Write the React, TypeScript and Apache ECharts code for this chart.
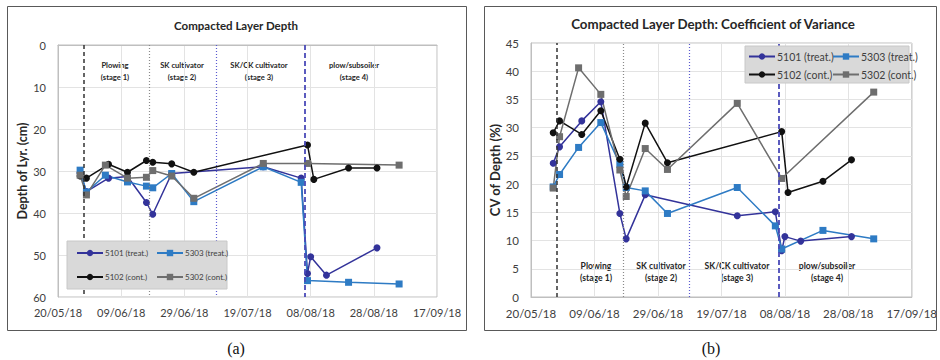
import React, { useEffect, useRef } from "react";
import * as echarts from "echarts";

// ---------- data ----------
const dates5101 = ["27/05/18", "29/05/18", "05/06/18", "11/06/18", "17/06/18", "19/06/18", "25/06/18", "24/07/18", "05/08/18", "07/08/18", "08/08/18", "13/08/18", "29/08/18"];
const depth5101 = [30.5, 34.9, 31.7, 31.3, 37.5, 40.3, 30.6, 29.0, 31.7, 54.4, 50.4, 54.8, 48.3];
const cv5101 = [23.7, 26.6, 31.2, 34.6, 14.8, 10.3, 18.1, 14.4, 15.1, 8.2, 10.7, 9.9, 10.7];

const dates5303 = ["27/05/18", "29/05/18", "04/06/18", "11/06/18", "17/06/18", "19/06/18", "25/06/18", "02/07/18", "24/07/18", "05/08/18", "07/08/18", "20/08/18", "05/09/18"];
const depth5303 = [29.8, 35.0, 31.0, 32.6, 33.6, 34.0, 30.6, 37.3, 29.0, 32.7, 56.1, 56.5, 56.9];
const cv5303 = [19.5, 21.7, 26.5, 30.9, 23.5, 19.4, 18.8, 14.8, 19.4, 12.6, 8.5, 11.8, 10.3];

const dates5102 = ["27/05/18", "29/05/18", "05/06/18", "11/06/18", "17/06/18", "19/06/18", "25/06/18", "02/07/18", "07/08/18", "09/08/18", "20/08/18", "29/08/18"];
const depth5102 = [31.2, 31.7, 28.4, 30.3, 27.5, 27.9, 28.3, 30.3, 23.8, 32.0, 29.3, 29.3];
const cv5102 = [29.1, 31.2, 28.8, 33.0, 24.4, 19.5, 30.8, 23.8, 29.3, 18.5, 20.5, 24.3];

const dates5302 = ["27/05/18", "29/05/18", "04/06/18", "11/06/18", "17/06/18", "19/06/18", "25/06/18", "02/07/18", "24/07/18", "07/08/18", "05/09/18"];
const depth5302 = [31.0, 35.7, 28.6, 31.7, 31.5, 29.9, 31.2, 36.5, 28.2, 28.2, 28.6];
const cv5302 = [19.3, 28.4, 40.6, 35.9, 22.5, 17.8, 26.3, 22.6, 34.3, 21.0, 36.3];

const seriesNames = ["5101 (treat.)", "5303 (treat.)", "5102 (cont.)", "5302 (cont.)"];
const stageLineDates = ["28/05/18", "18/06/18", "09/07/18", "06/08/18"];
const stageLabels = ["Plowing\n(stage 1)", "SK cultivator\n(stage 2)", "SK/CK cultivator\n(stage 3)", "plow/subsoiler\n(stage 4)"];
const axisStartDate = "20/05/18";
const axisEndDate = "17/09/18";

// ---------- helpers ----------
const toUTC = (s: string) => {
  const [d, m, y] = s.split("/").map(Number);
  return Date.UTC(2000 + y, m - 1, d);
};
const BASE = toUTC(axisStartDate);
const dayOf = (s: string) => (toUTC(s) - BASE) / 86400000;
const fmtDay = (v: number) => {
  const dt = new Date(BASE + v * 86400000);
  const p = (n: number) => String(n).padStart(2, "0");
  return `${p(dt.getUTCDate())}/${p(dt.getUTCMonth() + 1)}/${p(dt.getUTCFullYear() % 100)}`;
};
const pairs = (ds: string[], vs: number[]) => ds.map((d, i) => [dayOf(d), vs[i]]);

const FONT = "Lato";
const colors = ["#33339a", "#2e7bc4", "#111111", "#6e6e6e"];
const symbols = ["circle", "rect", "circle", "rect"];

export default function App() {
  const ref = useRef<HTMLDivElement>(null);
  useEffect(() => {
    document.body.style.margin = "0";
    const chart = echarts.init(ref.current!, null, { renderer: "svg" });
    const xMax = dayOf(axisEndDate);
    const mkX = (gi: number, fs: number) => ({
      type: "value",
      gridIndex: gi,
      min: 0,
      max: xMax,
      interval: 20,
      axisLine: { show: true, lineStyle: { color: "#bfbfbf" } },
      axisTick: { show: false },
      splitLine: { show: true, lineStyle: { color: "#e3e3e3" } },
      axisLabel: { formatter: fmtDay, fontFamily: FONT, fontSize: fs, color: "#404040", margin: 10 },
    });
    const stageLines = [
      { color: "#333333", type: [4, 3], width: 1.5 },
      { color: "#8a8a8a", type: [1, 2], width: 1.2 },
      { color: "#5a5ad0", type: [1, 2], width: 1.2 },
      { color: "#4a4ab8", type: [5, 3], width: 1.8 },
    ];
    const markLine = {
      silent: true,
      symbol: ["none", "none"],
      label: { show: false },
      data: stageLineDates.map((d, i) => ({ xAxis: dayOf(d), lineStyle: stageLines[i] })),
    };
    const datasets = [
      [pairs(dates5101, depth5101), pairs(dates5303, depth5303), pairs(dates5102, depth5102), pairs(dates5302, depth5302)],
      [pairs(dates5101, cv5101), pairs(dates5303, cv5303), pairs(dates5102, cv5102), pairs(dates5302, cv5302)],
    ];
    const series: any[] = [];
    [0, 1].forEach((gi) => {
      seriesNames.forEach((name, i) => {
        series.push({
          type: "line",
          name,
          xAxisIndex: gi,
          yAxisIndex: gi,
          data: datasets[gi][i],
          symbol: symbols[i],
          symbolSize: 7,
          lineStyle: { color: colors[i], width: 1.5 },
          itemStyle: { color: colors[i] },
          color: colors[i],
          markLine: i === 0 ? markLine : undefined,
          z: 2,
        });
      });
    });
    const mkLegend = (name: string, left: number, top: number, fs: number, iw: number) => ({
      data: [name],
      left,
      top,
      itemWidth: iw,
      itemHeight: 8,
      itemGap: 0,
      padding: 0,
      z: 20,
      textStyle: { fontFamily: FONT, color: "#404040", fontSize: fs, padding: [0, 0, 0, -3] },
    });
    const legends = [
      mkLegend(seriesNames[0], 76, 249, 8, 26),
      mkLegend(seriesNames[1], 156, 249, 8, 26),
      mkLegend(seriesNames[2], 76, 273, 8, 26),
      mkLegend(seriesNames[3], 156, 273, 8, 26),
      mkLegend(seriesNames[0], 748, 51, 10.5, 26),
      mkLegend(seriesNames[1], 832, 51, 10.5, 26),
      mkLegend(seriesNames[2], 748, 69, 10.5, 26),
      mkLegend(seriesNames[3], 832, 69, 10.5, 26),
    ];
    const leftStageX = [115, 182, 259, 354];
    const rightStageX = [596, 661, 737, 827];
    const graphic: any[] = [
      { type: "rect", shape: { x: 7.5, y: 6.5, width: 459, height: 324 }, style: { fill: "none", stroke: "#595959", lineWidth: 1 }, z: 1 },
      { type: "rect", shape: { x: 484.5, y: 6.5, width: 452, height: 324 }, style: { fill: "none", stroke: "#595959", lineWidth: 1 }, z: 1 },
      { type: "rect", shape: { x: 67, y: 241, width: 160, height: 48 }, style: { fill: "#d9d9d9", stroke: "#c8c8c8" }, z: 10 },
      { type: "rect", shape: { x: 745, y: 46, width: 164, height: 37 }, style: { fill: "#d9d9d9", stroke: "#c8c8c8" }, z: 10 },
      { type: "text", x: 236, y: 25, style: { text: "Compacted Layer Depth", fontFamily: FONT, fontWeight: "bold", fontSize: 11.5, fill: "#262626", align: "center", verticalAlign: "middle" } },
      { type: "text", x: 713, y: 24, style: { text: "Compacted Layer Depth: Coefficient of Variance", fontFamily: FONT, fontWeight: "bold", fontSize: 13.3, fill: "#262626", align: "center", verticalAlign: "middle" } },
      { type: "text", x: 236, y: 348, style: { text: "(a)", fontFamily: "Liberation Serif", fontSize: 16, fill: "#111", align: "center", verticalAlign: "middle" } },
      { type: "text", x: 711, y: 348, style: { text: "(b)", fontFamily: "Liberation Serif", fontSize: 16, fill: "#111", align: "center", verticalAlign: "middle" } },
    ];
    stageLabels.forEach((t, i) => {
      graphic.push({ type: "text", x: leftStageX[i], y: 71, style: { text: t, fontFamily: FONT, fontSize: 7.6, fontWeight: "bold", lineHeight: 12.5, fill: "#262626", align: "center", verticalAlign: "middle" } });
      graphic.push({ type: "text", x: rightStageX[i], y: 272, style: { text: t, fontFamily: FONT, fontSize: 8.6, fontWeight: "bold", lineHeight: 11.5, fill: "#262626", align: "center", verticalAlign: "middle" } });
    });
    chart.setOption({
      animation: false,
      backgroundColor: "#ffffff",
      grid: [
        { left: 58, top: 45, width: 379, height: 252, show: true, borderColor: "#bfbfbf", borderWidth: 1 },
        { left: 531, top: 43, width: 382, height: 254, show: true, borderColor: "#bfbfbf", borderWidth: 1 },
      ],
      xAxis: [mkX(0, 11), mkX(1, 11.5)],
      yAxis: [
        {
          type: "value", gridIndex: 0, min: 0, max: 60, interval: 10, inverse: true,
          name: "Depth of Lyr. (cm)", nameLocation: "middle", nameGap: 28,
          nameTextStyle: { fontFamily: FONT, fontWeight: "bold", fontSize: 12.5, color: "#262626" },
          axisLine: { show: true, lineStyle: { color: "#bfbfbf" } }, axisTick: { show: false },
          splitLine: { lineStyle: { color: "#e3e3e3" } },
          axisLabel: { fontFamily: FONT, fontSize: 11, color: "#404040", margin: 12 },
        },
        {
          type: "value", gridIndex: 1, min: 0, max: 45, interval: 5,
          name: "CV of Depth (%)", nameLocation: "middle", nameGap: 29,
          nameTextStyle: { fontFamily: FONT, fontWeight: "bold", fontSize: 13, color: "#262626" },
          axisLine: { show: true, lineStyle: { color: "#bfbfbf" } }, axisTick: { show: false },
          splitLine: { lineStyle: { color: "#e3e3e3" } },
          axisLabel: { fontFamily: FONT, fontSize: 11.5, color: "#404040", margin: 12 },
        },
      ],
      legend: legends,
      graphic,
      series,
    });
    return () => chart.dispose();
  }, []);
  return <div ref={ref} style={{ width: 940, height: 360 }} />;
}
